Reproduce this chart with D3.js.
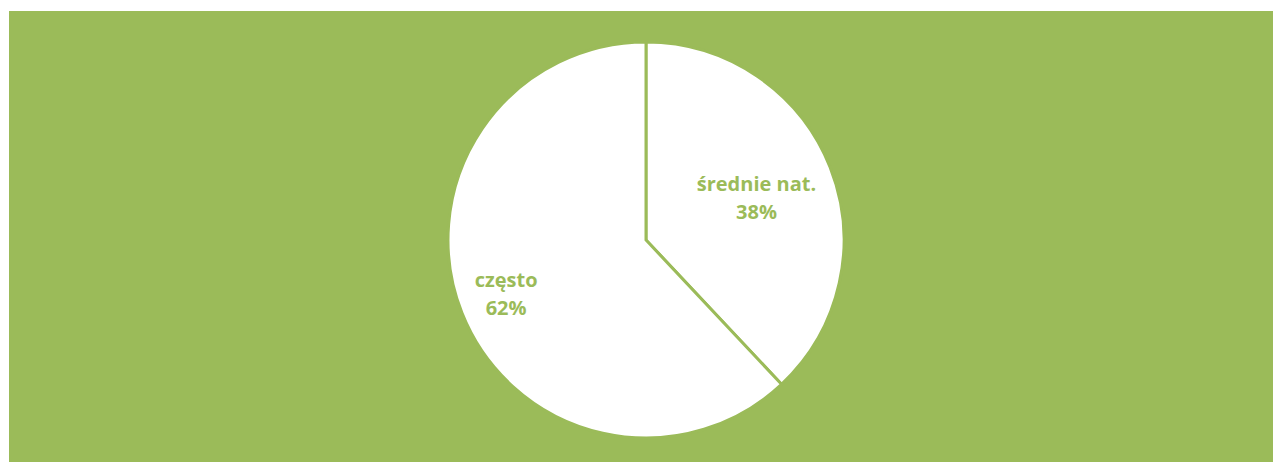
<!DOCTYPE html>
<html>
<head>
<meta charset="utf-8">
<script src="https://cdn.jsdelivr.net/npm/d3@7"></script>
<style>
  html, body { margin: 0; padding: 0; background: #ffffff; }
  svg { display: block; }
</style>
</head>
<body>
<svg id="chart" width="1273" height="462"></svg>
<script>
// Share of answers
const categories = ["średnie nat.", "często"];
const shares = [38, 62];

const W = 1273, H = 462;
const green = "#9BBB59";
const svg = d3.select("#chart");

// Plot background
svg.append("rect")
  .attr("x", 9).attr("y", 11)
  .attr("width", W - 9).attr("height", H - 11)
  .attr("fill", green);

const cx = 646, cy = 240, r = 198;
const g = svg.append("g").attr("transform", `translate(${cx},${cy})`);

const pie = d3.pie().sort(null).value(d => d.v);
const arcs = pie(categories.map((c, i) => ({ c, v: shares[i] })));
const arc = d3.arc().innerRadius(0).outerRadius(r);

g.selectAll("path.slice")
  .data(arcs)
  .join("path")
  .attr("class", "slice")
  .attr("d", arc)
  .attr("fill", "#ffffff")
  .attr("stroke", green)
  .attr("stroke-width", 3)
  .attr("stroke-linejoin", "miter");

// Labels placed along each slice's mid-angle
const labelDist = [0.6, 0.76];
const labelShift = [3, 0];
const labels = g.selectAll("text.lbl")
  .data(arcs)
  .join("text")
  .attr("class", "lbl")
  .attr("text-anchor", "middle")
  .attr("font-family", "'Open Sans', 'Liberation Sans', sans-serif")
  .attr("font-weight", "bold")
  .attr("font-size", 20)
  .attr("fill", green)
  .attr("transform", (d, i) => {
    const a = (d.startAngle + d.endAngle) / 2;
    const rr = r * labelDist[i];
    return `translate(${rr * Math.sin(a)},${-rr * Math.cos(a) + labelShift[i]})`;
  });

labels.append("tspan")
  .attr("x", 0).attr("y", -8)
  .text(d => d.data.c);
labels.append("tspan")
  .attr("x", 0).attr("y", 20)
  .text(d => d.data.v + "%");
</script>
</body>
</html>
